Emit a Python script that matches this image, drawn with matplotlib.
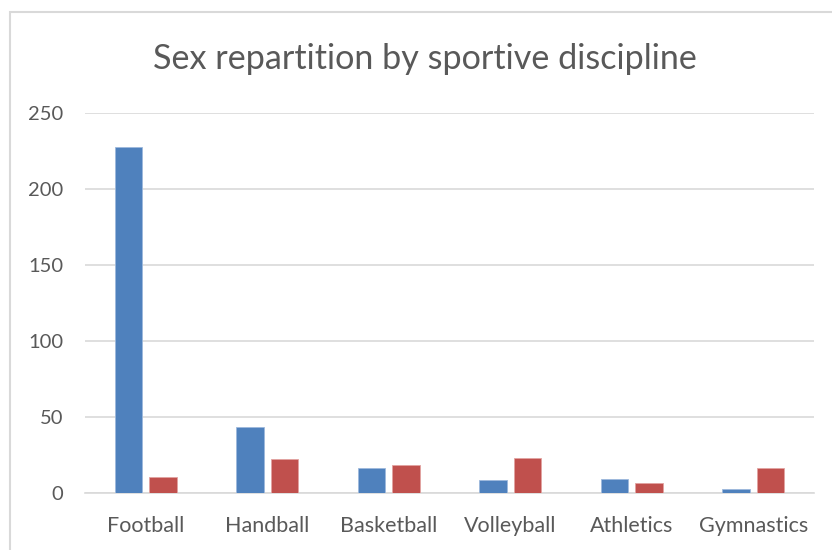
import matplotlib.pyplot as plt
import numpy as np
from matplotlib.patches import Rectangle

# Datos
disciplinas = ["Football", "Handball", "Basketball", "Volleyball", "Athletics", "Gymnastics"]
hombres = [227, 43, 16, 8, 9, 2]
mujeres = [10, 22, 18, 23, 6, 16]

plt.rcParams["font.family"] = ["Lato", "DejaVu Sans"]

fig = plt.figure(figsize=(8.32, 5.5), dpi=100)
ax = fig.add_axes([85 / 832, (550 - 492.5) / 550, 729 / 832, 380 / 550])

x = np.arange(len(disciplinas))
ancho = 0.225
ax.bar(x - 0.1425, hombres, ancho, color="#4F81BD", edgecolor="#9DB9DC", linewidth=0.6, zorder=3)
ax.bar(x + 0.1425, mujeres, ancho, color="#C0504D", edgecolor="#E2A3A1", linewidth=0.6, zorder=3)

ax.set_xlim(-0.5, len(disciplinas) - 0.5)
ax.set_ylim(0, 250)
ax.set_yticks(range(0, 251, 50))
ax.set_xticks(x)
ax.set_xticklabels(disciplinas)
ax.yaxis.grid(True, color="#D9D9D9", linewidth=1.2, zorder=0)
ax.set_axisbelow(True)
for s in ["top", "right", "left"]:
    ax.spines[s].set_visible(False)
ax.spines["bottom"].set_color("#D9D9D9")
ax.spines["bottom"].set_linewidth(1.2)
ax.tick_params(axis="both", length=0, labelsize=14.5, labelcolor="#595959")
ax.tick_params(axis="x", labelsize=15.5, pad=17)
ax.tick_params(axis="y", pad=15.5)

fig.text(0.511, 0.892, "Sex repartition by sportive discipline", ha="center", va="center",
         fontsize=24.6, color="#595959")

# Marco del gráfico
fig.patches.append(Rectangle((9.5 / 832, -0.1), 1.1, (550 - 12.5) / 550 + 0.1,
                             transform=fig.transFigure, fill=False,
                             edgecolor="#D9D9D9", linewidth=1.5))

fig.savefig("out.png", dpi=100)
